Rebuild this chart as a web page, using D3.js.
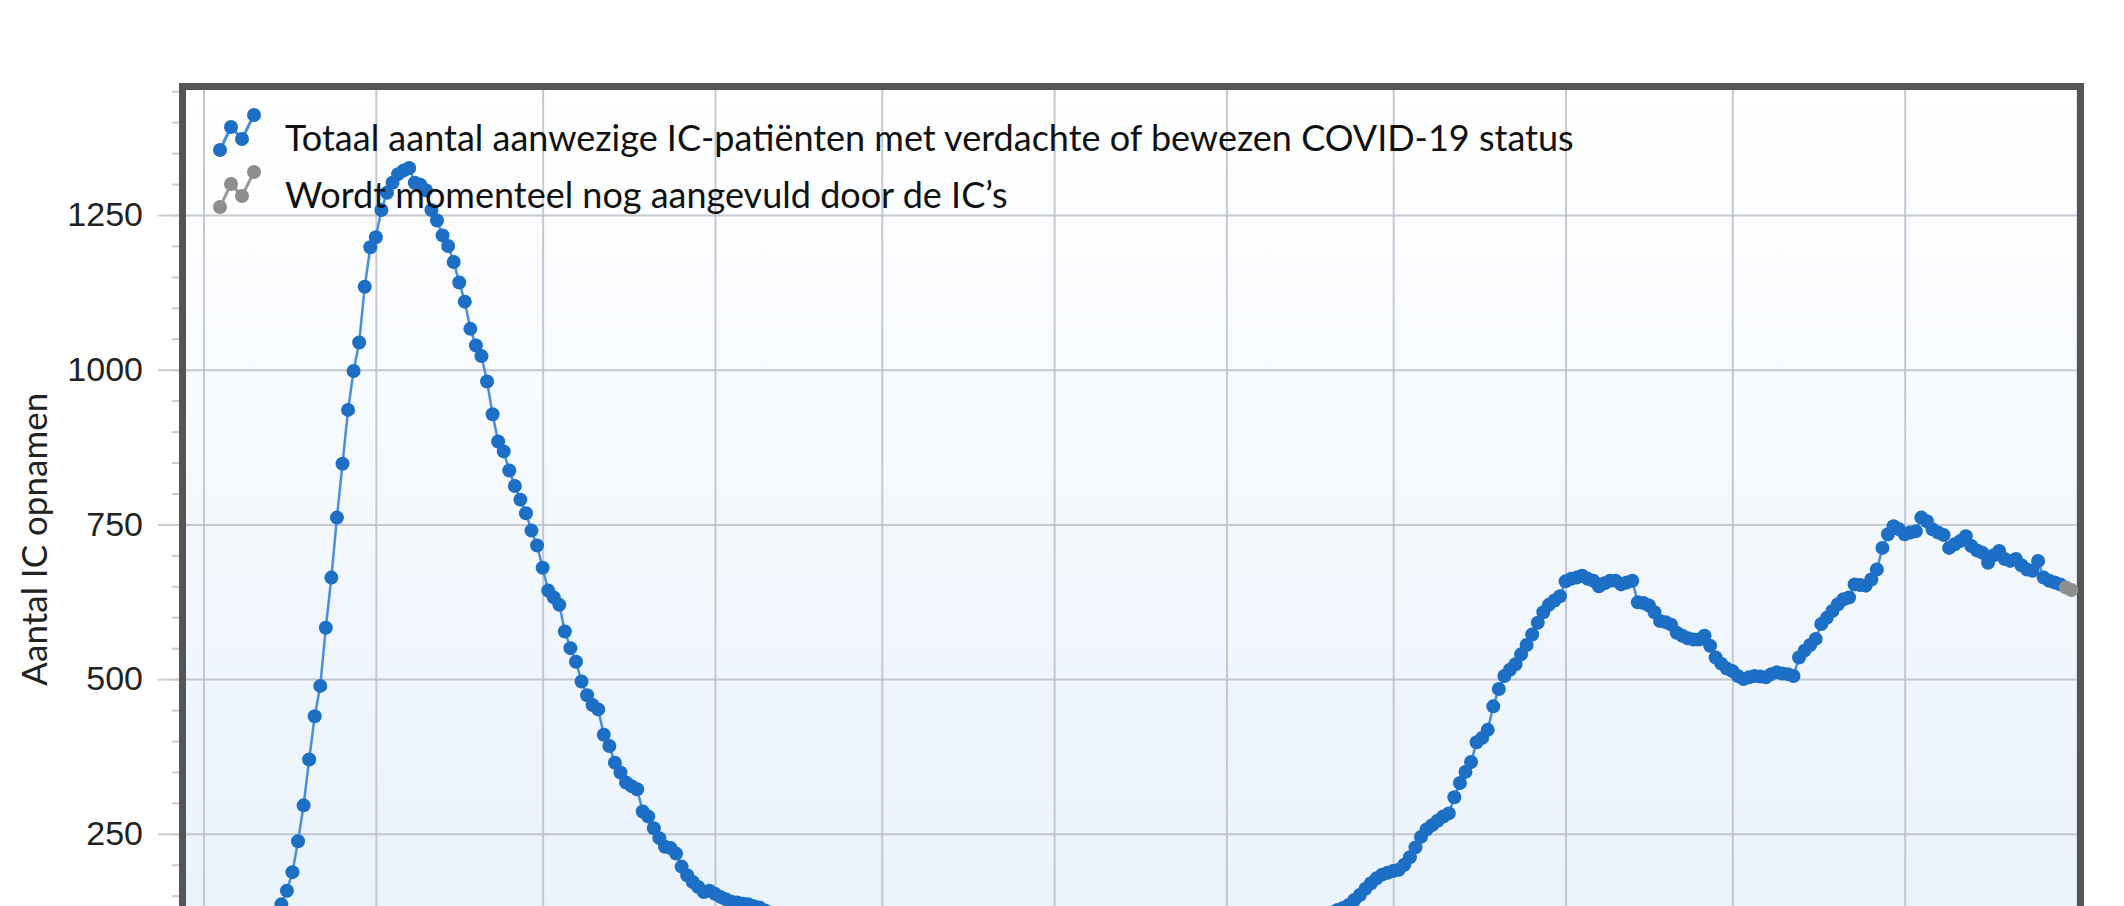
<!DOCTYPE html>
<html>
<head>
<meta charset="utf-8">
<script src="https://cdn.jsdelivr.net/npm/d3@7"></script>
<style>
	html, body { margin: 0; padding: 0; background: #fff; overflow: hidden; }
	svg { display: block; font-family: Lato, 'Open Sans', sans-serif; }
</style>
</head>
<body>
<div id="chart"></div>
<script>
// IC occupancy per day, one array per month (first value = first day in that array)
var firstDay = new Date(2020, 1, 27);
var feb2020 = [1, 1, 2];
var mar2020 = [2, 3, 4, 5, 7, 9, 13, 18, 25, 35, 48, 64, 88, 112, 136, 158, 188, 238, 296, 370,
	440, 489, 583, 664, 761, 848, 935, 998, 1044, 1134, 1198];
var apr2020 = [1214, 1258, 1286, 1302, 1316, 1322, 1326, 1302, 1299, 1290, 1258, 1241, 1217, 1200, 1174,
	1141, 1110, 1066, 1039, 1022, 981, 928, 884, 868, 837, 812, 790, 768, 740, 716];
var may2020 = [680, 643, 632, 620, 577, 550, 528, 496, 474, 458, 451, 410, 392, 365, 349, 333, 327, 322,
	286, 278, 259, 243, 229, 227, 218, 197, 183, 172, 164, 156, 158];
var jun2020 = [153, 148, 144, 140, 139, 137, 136, 133, 131, 126, 120, 115, 110, 104, 98, 93, 88, 84, 80,
	76, 72, 68, 64, 60, 57, 54, 51, 48, 46, 44];
var jul2020 = [42, 40, 38, 37, 36, 35, 33, 32, 31, 30, 29, 28, 27, 26, 26, 25, 24, 24, 23, 23, 22, 22,
	23, 24, 25, 26, 27, 28, 30, 31, 33];
var aug2020 = [35, 36, 37, 37, 39, 40, 41, 42, 43, 44, 45, 46, 47, 48, 48, 49, 50, 50, 51, 52, 52, 53,
	54, 55, 55, 56, 57, 58, 60, 62, 64];
var sep2020 = [66, 68, 69, 72, 74, 76, 78, 80, 83, 86, 89, 92, 95, 98, 102, 106, 110, 114, 118, 123, 127,
	130, 135, 143, 151, 161, 170, 178, 184, 187];
var oct2020 = [190, 192, 200, 212, 228, 245, 257, 264, 271, 278, 283, 309, 332, 350, 366, 398, 405, 418,
	456, 484, 505, 515, 524, 540, 555, 572, 591, 608, 620, 627, 634];
var nov2020 = [658, 662, 664, 667, 662, 659, 650, 655, 659, 659, 653, 656, 659, 624, 623, 619, 608, 594,
	592, 588, 575, 570, 566, 564, 564, 570, 554, 535, 525, 517];
var dec2020 = [513, 505, 500, 503, 505, 504, 503, 508, 511, 509, 508, 505, 535, 546, 555, 565, 589, 599,
	610, 621, 629, 632, 653, 652, 651, 661, 677, 712, 734, 747, 742];
var jan2021 = [734, 737, 739, 761, 755, 742, 737, 733, 712, 718, 723, 731, 715, 708, 704, 688, 700, 707,
	694, 691, 694, 684, 677, 675, 691, 664, 659, 656, 653];
// last days, still being completed by the ICs
var pending = [648, 644];

var yTicks = [0, 250, 500, 750, 1000, 1250];
var legendLabels = [
	'Totaal aantal aanwezige IC-patiënten met verdachte of bewezen COVID-19 status',
	'Wordt momenteel nog aangevuld door de IC\u2019s'
];
var yTitle = 'Aantal IC opnamen';

var margin = {top: 90, right: 47, left: 186};
var width = 2124, height = 1000;
var plotRight = width - margin.right;
var plotBottom = 988.5;

var values = [].concat(feb2020, mar2020, apr2020, may2020, jun2020, jul2020, aug2020, sep2020,
	oct2020, nov2020, dec2020, jan2021);
var data = values.map(function (v, i) {
	return {date: d3.timeDay.offset(firstDay, i), value: v};
});
var lastKnown = data[data.length - 1];
var pendingData = pending.map(function (v, i) {
	return {date: d3.timeDay.offset(lastKnown.date, i + 1), value: v};
});

var x = d3.scaleTime()
	.domain([new Date(2020, 1, 26, 20, 24), new Date(2021, 1, 1)])
	.range([margin.left, plotRight]);
var y = d3.scaleLinear().domain([0, 1452]).range([plotBottom, margin.top]);

var svg = d3.select('#chart').append('svg')
	.attr('width', width)
	.attr('height', height);

var grad = svg.append('defs').append('linearGradient')
	.attr('id', 'bg')
	.attr('x1', 0).attr('y1', 0).attr('x2', 0).attr('y2', 1);
grad.append('stop').attr('offset', '0%').attr('stop-color', '#ffffff');
grad.append('stop').attr('offset', '100%').attr('stop-color', '#e8f1fc');

svg.append('rect')
	.attr('x', margin.left)
	.attr('y', margin.top)
	.attr('width', plotRight - margin.left)
	.attr('height', plotBottom - margin.top)
	.style('fill', 'url(#bg)');

// grid
svg.append('g')
	.attr('class', 'grid')
	.attr('transform', 'translate(0,' + plotBottom + ')')
	.call(d3.axisBottom(x)
		.ticks(d3.timeMonth.every(1))
		.tickSize(-(plotBottom - margin.top))
		.tickFormat(''));
svg.append('g')
	.attr('class', 'grid')
	.attr('transform', 'translate(' + margin.left + ',0)')
	.call(d3.axisLeft(y)
		.tickValues(yTicks)
		.tickSize(-(plotRight - margin.left))
		.tickFormat(''));
svg.selectAll('.grid .domain').remove();
svg.selectAll('.grid line')
	.style('stroke', '#bcc0c6')
	.style('stroke-width', 2)
	.style('opacity', 0.85);

// y axis, outside the frame
var axisX = margin.left - 7;
var minor = svg.append('g')
	.attr('class', 'yaxis')
	.attr('transform', 'translate(' + axisX + ',0)')
	.call(d3.axisLeft(y)
		.tickValues(d3.range(0, 1451, 50))
		.tickSize(7)
		.tickFormat(''));
var major = svg.append('g')
	.attr('class', 'yaxis')
	.attr('transform', 'translate(' + axisX + ',0)')
	.call(d3.axisLeft(y)
		.tickValues(yTicks)
		.tickSize(21)
		.tickPadding(15)
		.tickFormat(function (d) { return d > 0 ? d3.format('d')(d) : ''; }));
svg.selectAll('.yaxis .domain').remove();
svg.selectAll('.yaxis line').style('stroke', '#cccccc').style('stroke-width', 2);
major.selectAll('text')
	.style('font-size', '34px')
	.style('fill', '#222');

svg.append('text')
	.attr('transform', 'translate(47,' + ((margin.top + plotBottom) / 2) + ') rotate(-90)')
	.style('text-anchor', 'middle')
	.style('font-size', '35px')
	.style('fill', '#222')
	.text(yTitle);

// frame
svg.append('rect')
	.attr('x', margin.left - 3.5)
	.attr('y', margin.top - 3.5)
	.attr('width', plotRight - margin.left + 7)
	.attr('height', plotBottom - margin.top + 7)
	.style('fill', 'none')
	.style('stroke', '#555555')
	.style('stroke-width', 7);

// series
var line = d3.line()
	.x(function (d) { return x(d.date); })
	.y(function (d) { return y(d.value); });

svg.append('path')
	.datum(data)
	.attr('d', line)
	.style('fill', 'none')
	.style('stroke', '#4a8fdb')
	.style('stroke-width', 2.5);
svg.append('path')
	.datum([lastKnown].concat(pendingData))
	.attr('d', line)
	.style('fill', 'none')
	.style('stroke', '#9a9a9a')
	.style('stroke-width', 2.5);

svg.selectAll('circle.ic')
	.data(data)
	.enter()
	.append('circle')
	.attr('class', 'ic')
	.attr('cx', function (d) { return x(d.date); })
	.attr('cy', function (d) { return y(d.value); })
	.attr('r', 7)
	.style('fill', '#1d6fc6');
svg.selectAll('circle.pending')
	.data(pendingData)
	.enter()
	.append('circle')
	.attr('class', 'pending')
	.attr('cx', function (d) { return x(d.date); })
	.attr('cy', function (d) { return y(d.value); })
	.attr('r', 7)
	.style('fill', '#8e8e8e');

// legend
var iconShape = [[0, 35], [11, 12], [22, 24], [34, 0]];
var legend = svg.append('g').attr('transform', 'translate(220,115)');
[['#1d6fc6', '#4a8fdb'], ['#8e8e8e', '#9a9a9a']].forEach(function (c, i) {
	var g = legend.append('g').attr('transform', 'translate(0,' + (i * 57) + ')');
	g.append('path')
		.attr('d', d3.line()(iconShape))
		.style('fill', 'none')
		.style('stroke', c[1])
		.style('stroke-width', 3);
	g.selectAll('circle')
		.data(iconShape)
		.enter()
		.append('circle')
		.attr('cx', function (d) { return d[0]; })
		.attr('cy', function (d) { return d[1]; })
		.attr('r', 7)
		.style('fill', c[0]);
	g.append('text')
		.attr('x', 65)
		.attr('y', 36)
		.style('font-size', '36px')
		.style('fill', '#111')
		.text(legendLabels[i]);
});
</script>
</body>
</html>
